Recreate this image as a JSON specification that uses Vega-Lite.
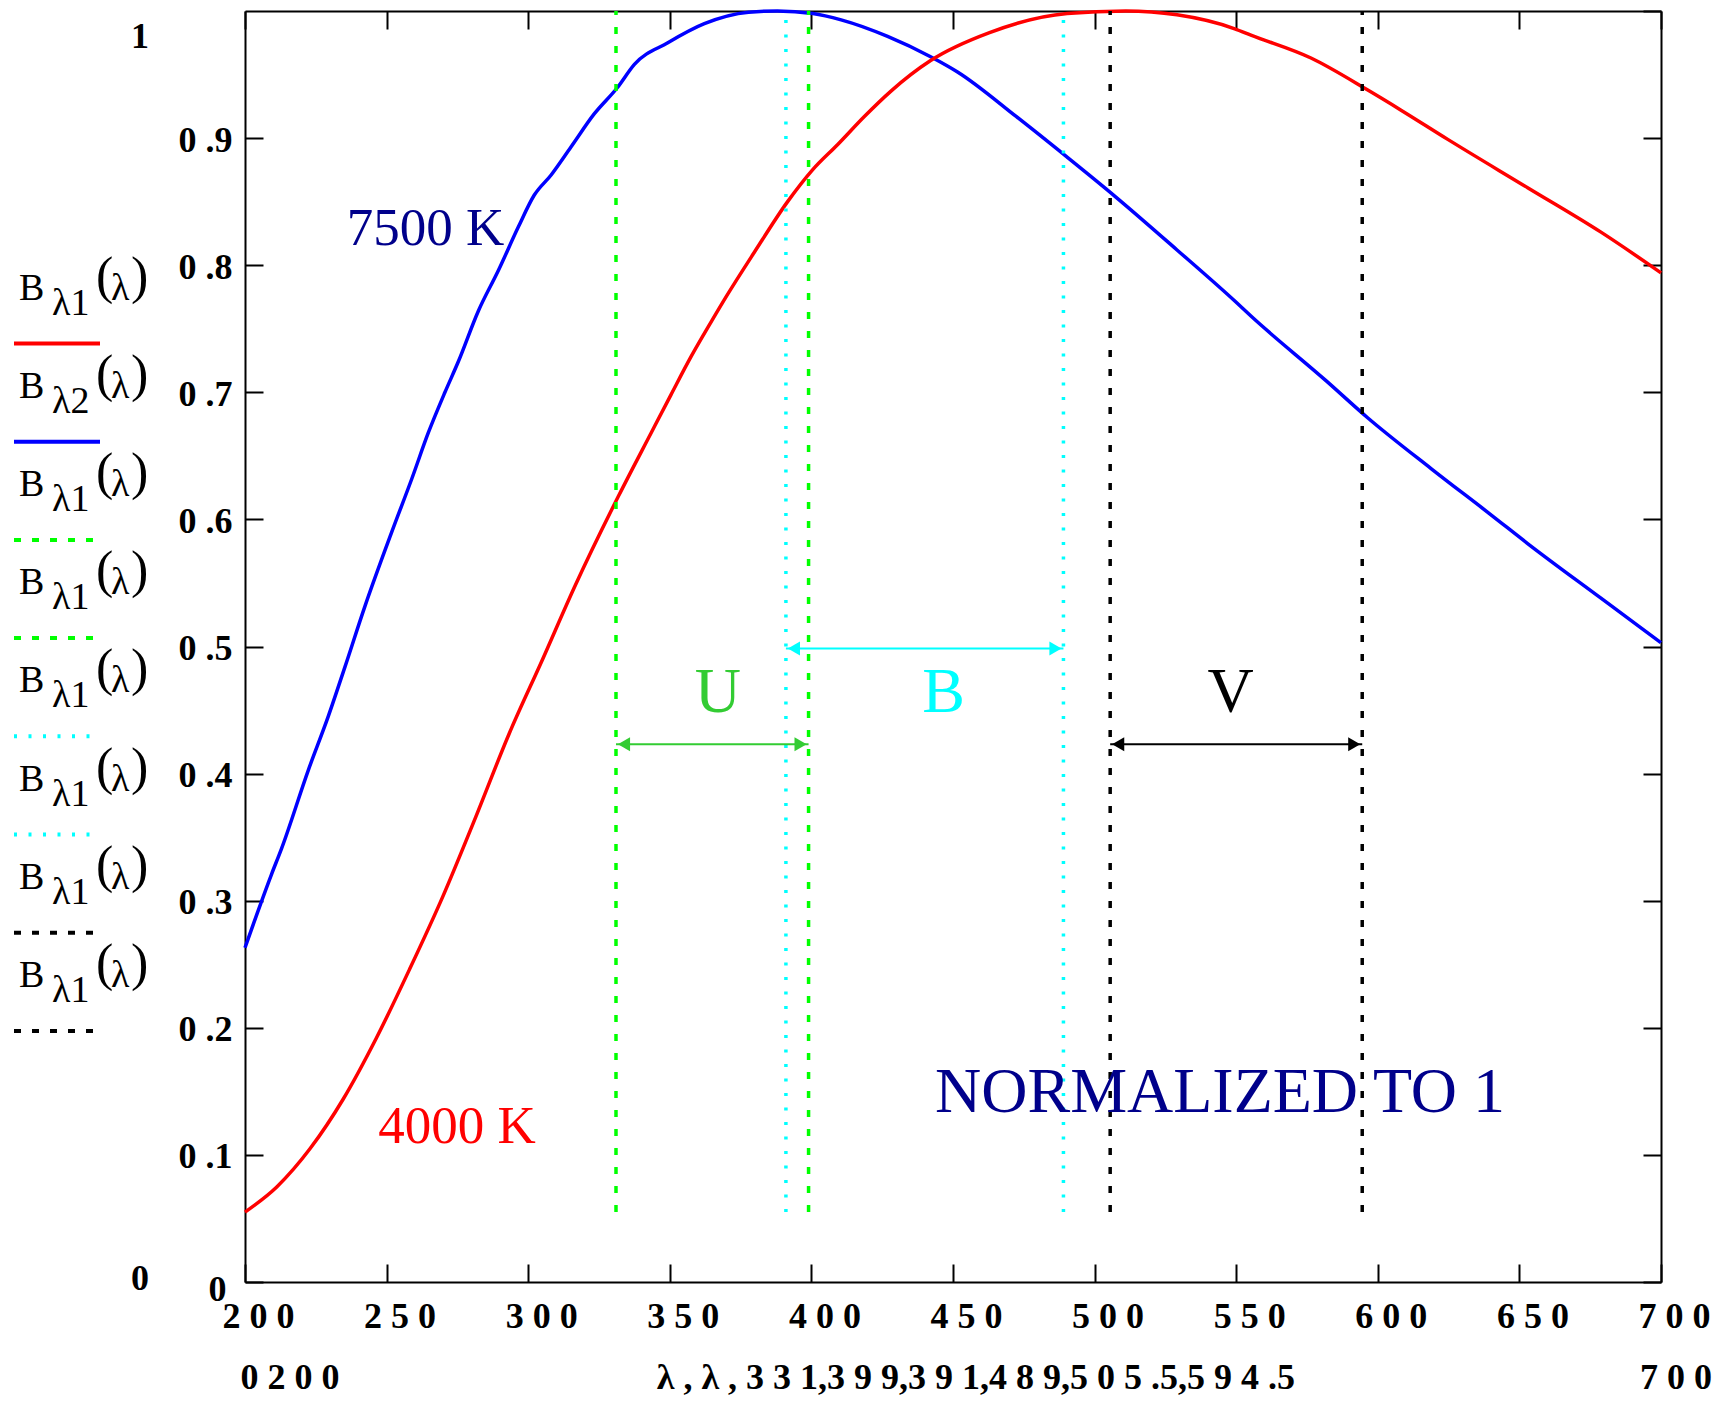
{
  "$schema": "https://vega.github.io/schema/vega-lite/v6.json",
  "background": "white",
  "autosize": {"type": "pad"},
  "padding": {"left": 12, "top": 4, "right": 10, "bottom": 5},
  "bounds": "flush",
  "spacing": 145,
  "config": {"view": {"stroke": null}, "font": "Liberation Serif"},
  "datasets": {
    "curves": [
      {"curve": "7500 K", "lambda": 200, "value": 0.263},
      {"curve": "7500 K", "lambda": 209.4, "value": 0.321},
      {"curve": "7500 K", "lambda": 212.9, "value": 0.341},
      {"curve": "7500 K", "lambda": 222.4, "value": 0.403},
      {"curve": "7500 K", "lambda": 229.4, "value": 0.445},
      {"curve": "7500 K", "lambda": 235.3, "value": 0.484},
      {"curve": "7500 K", "lambda": 242.4, "value": 0.532},
      {"curve": "7500 K", "lambda": 251.8, "value": 0.59},
      {"curve": "7500 K", "lambda": 258.9, "value": 0.632},
      {"curve": "7500 K", "lambda": 264.7, "value": 0.668},
      {"curve": "7500 K", "lambda": 270.6, "value": 0.7},
      {"curve": "7500 K", "lambda": 275.3, "value": 0.724},
      {"curve": "7500 K", "lambda": 282.4, "value": 0.764},
      {"curve": "7500 K", "lambda": 289.5, "value": 0.796},
      {"curve": "7500 K", "lambda": 296.5, "value": 0.83},
      {"curve": "7500 K", "lambda": 302.1, "value": 0.855},
      {"curve": "7500 K", "lambda": 308.1, "value": 0.871},
      {"curve": "7500 K", "lambda": 315.1, "value": 0.893},
      {"curve": "7500 K", "lambda": 323.3, "value": 0.919},
      {"curve": "7500 K", "lambda": 331.6, "value": 0.94},
      {"curve": "7500 K", "lambda": 337.5, "value": 0.958},
      {"curve": "7500 K", "lambda": 349.3, "value": 0.975},
      {"curve": "7500 K", "lambda": 362.2, "value": 0.99},
      {"curve": "7500 K", "lambda": 377.8, "value": 0.999},
      {"curve": "7500 K", "lambda": 388, "value": 1.0},
      {"curve": "7500 K", "lambda": 400.5, "value": 0.998},
      {"curve": "7500 K", "lambda": 410.5, "value": 0.993},
      {"curve": "7500 K", "lambda": 426.9, "value": 0.98},
      {"curve": "7500 K", "lambda": 442.1, "value": 0.964},
      {"curve": "7500 K", "lambda": 451.6, "value": 0.952},
      {"curve": "7500 K", "lambda": 472.3, "value": 0.917},
      {"curve": "7500 K", "lambda": 490.3, "value": 0.885},
      {"curve": "7500 K", "lambda": 507.3, "value": 0.854},
      {"curve": "7500 K", "lambda": 529.1, "value": 0.812},
      {"curve": "7500 K", "lambda": 549.9, "value": 0.771},
      {"curve": "7500 K", "lambda": 555.2, "value": 0.76},
      {"curve": "7500 K", "lambda": 581.8, "value": 0.709},
      {"curve": "7500 K", "lambda": 596.4, "value": 0.68},
      {"curve": "7500 K", "lambda": 618.8, "value": 0.64},
      {"curve": "7500 K", "lambda": 640.3, "value": 0.603},
      {"curve": "7500 K", "lambda": 652.9, "value": 0.581},
      {"curve": "7500 K", "lambda": 678.8, "value": 0.538},
      {"curve": "7500 K", "lambda": 700, "value": 0.503},
      {"curve": "4000 K", "lambda": 200, "value": 0.055},
      {"curve": "4000 K", "lambda": 211.3, "value": 0.075},
      {"curve": "4000 K", "lambda": 223, "value": 0.105},
      {"curve": "4000 K", "lambda": 234.7, "value": 0.144},
      {"curve": "4000 K", "lambda": 246.4, "value": 0.192},
      {"curve": "4000 K", "lambda": 258.1, "value": 0.246},
      {"curve": "4000 K", "lambda": 269.8, "value": 0.303},
      {"curve": "4000 K", "lambda": 281.5, "value": 0.366},
      {"curve": "4000 K", "lambda": 293.2, "value": 0.431},
      {"curve": "4000 K", "lambda": 304.9, "value": 0.489},
      {"curve": "4000 K", "lambda": 316.6, "value": 0.548},
      {"curve": "4000 K", "lambda": 331.8, "value": 0.618},
      {"curve": "4000 K", "lambda": 343.4, "value": 0.668},
      {"curve": "4000 K", "lambda": 350.4, "value": 0.698},
      {"curve": "4000 K", "lambda": 357.5, "value": 0.728},
      {"curve": "4000 K", "lambda": 364.5, "value": 0.755},
      {"curve": "4000 K", "lambda": 370.4, "value": 0.777},
      {"curve": "4000 K", "lambda": 379.8, "value": 0.81},
      {"curve": "4000 K", "lambda": 391.6, "value": 0.85},
      {"curve": "4000 K", "lambda": 400.4, "value": 0.875},
      {"curve": "4000 K", "lambda": 409.3, "value": 0.895},
      {"curve": "4000 K", "lambda": 418.7, "value": 0.917},
      {"curve": "4000 K", "lambda": 428.1, "value": 0.937},
      {"curve": "4000 K", "lambda": 442.1, "value": 0.961},
      {"curve": "4000 K", "lambda": 462.9, "value": 0.983},
      {"curve": "4000 K", "lambda": 490.3, "value": 0.998},
      {"curve": "4000 K", "lambda": 511, "value": 1.0},
      {"curve": "4000 K", "lambda": 529.1, "value": 0.997},
      {"curve": "4000 K", "lambda": 549.5, "value": 0.986},
      {"curve": "4000 K", "lambda": 555.2, "value": 0.981},
      {"curve": "4000 K", "lambda": 576.4, "value": 0.963},
      {"curve": "4000 K", "lambda": 596.3, "value": 0.938},
      {"curve": "4000 K", "lambda": 608.2, "value": 0.922},
      {"curve": "4000 K", "lambda": 624.7, "value": 0.899},
      {"curve": "4000 K", "lambda": 652.9, "value": 0.861},
      {"curve": "4000 K", "lambda": 678.8, "value": 0.826},
      {"curve": "4000 K", "lambda": 700, "value": 0.794}
    ],
    "bands": [
      {"band": "U", "lambda": 331, "lo": 0.055, "hi": 1},
      {"band": "U", "lambda": 399, "lo": 0.055, "hi": 1},
      {"band": "B", "lambda": 391, "lo": 0.055, "hi": 1},
      {"band": "B", "lambda": 489, "lo": 0.055, "hi": 1},
      {"band": "V", "lambda": 505.5, "lo": 0.055, "hi": 1},
      {"band": "V", "lambda": 594.5, "lo": 0.055, "hi": 1}
    ],
    "arrows": [
      {"band": "U", "from": 331, "to": 399, "level": 0.423},
      {"band": "B", "from": 391, "to": 489, "level": 0.4985},
      {"band": "V", "from": 505.5, "to": 594.5, "level": 0.423}
    ],
    "labels": [
      {"label": "7500 K", "kind": "temp", "lambda": 263.7, "value": 0.8156},
      {"label": "4000 K", "kind": "temp", "lambda": 274.9, "value": 0.1091},
      {"label": "U", "kind": "band", "lambda": 367.0, "value": 0.4481},
      {"label": "B", "kind": "band", "lambda": 446.7, "value": 0.4481},
      {"label": "V", "kind": "band", "lambda": 548.0, "value": 0.4481},
      {"label": "NORMALIZED TO 1", "kind": "note", "lambda": 544.3, "value": 0.1334}
    ],
    "axisnotes": [
      {"text": "1", "lambda": 162.9, "value": 0.971},
      {"text": "0", "lambda": 162.9, "value": -0.0063},
      {"text": "0 2 0 0", "lambda": 215.9, "value": -0.0843},
      {"text": "λ , λ , 3 3 1,3 9 9,3 9 1,4 8 9,5 0 5 .5,5 9 4 .5", "lambda": 458.1, "value": -0.0843},
      {"text": "7 0 0", "lambda": 705.3, "value": -0.0843}
    ],
    "legend": [
      {"entry": 1, "trace": "4000 K", "sub": "λ1"},
      {"entry": 2, "trace": "7500 K", "sub": "λ2"},
      {"entry": 3, "trace": "U", "sub": "λ1"},
      {"entry": 4, "trace": "U", "sub": "λ1"},
      {"entry": 5, "trace": "B", "sub": "λ1"},
      {"entry": 6, "trace": "B", "sub": "λ1"},
      {"entry": 7, "trace": "V", "sub": "λ1"},
      {"entry": 8, "trace": "V", "sub": "λ1"}
    ]
  },
  "resolve": {"scale": {"x": "independent", "y": "independent", "color": "independent", "strokeDash": "independent"}},
  "hconcat": [
    {
      "width": 86,
      "height": 1271,
      "data": {"name": "legend"},
      "layer": [
        {
          "mark": {"type": "rule", "strokeWidth": 4},
          "encoding": {
            "x": {"datum": 0, "type": "quantitative", "scale": {"domain": [0, 1], "nice": false, "zero": false}, "axis": null},
            "x2": {"datum": 1},
            "y": {"field": "entry", "type": "quantitative", "scale": {"domain": [-2.386, 10.557], "reverse": true, "nice": false, "zero": false}, "axis": null},
            "color": {"field": "trace", "type": "nominal", "scale": {"domain": ["4000 K", "7500 K", "U", "B", "V"], "range": ["#ff0000", "#0000ff", "#00ff00", "#00ffff", "#000000"]}, "legend": null},
            "strokeDash": {"field": "trace", "type": "nominal", "scale": {"domain": ["4000 K", "7500 K", "U", "B", "V"], "range": [[1, 0], [1, 0], [7, 11], [3, 11.5], [7, 11]]}, "legend": null}
          }
        },
        {
          "mark": {"type": "text", "text": "B", "align": "left", "baseline": "alphabetic", "dx": 5, "dy": -44, "fontSize": 38, "color": "black", "font": "Liberation Serif"},
          "encoding": {"x": {"datum": 0, "type": "quantitative"}, "y": {"field": "entry", "type": "quantitative"}}
        },
        {
          "mark": {"type": "text", "align": "left", "baseline": "alphabetic", "dx": 38, "dy": -29, "fontSize": 38, "color": "black", "font": "Liberation Serif"},
          "encoding": {"x": {"datum": 0, "type": "quantitative"}, "y": {"field": "entry", "type": "quantitative"}, "text": {"field": "sub"}}
        },
        {
          "mark": {"type": "text", "text": "(", "align": "left", "baseline": "alphabetic", "dx": 82, "dy": -51, "fontSize": 52, "color": "black", "font": "Liberation Serif"},
          "encoding": {"x": {"datum": 0, "type": "quantitative"}, "y": {"field": "entry", "type": "quantitative"}}
        },
        {
          "mark": {"type": "text", "text": "λ", "align": "left", "baseline": "alphabetic", "dx": 97, "dy": -44, "fontSize": 38, "color": "black", "font": "Liberation Serif"},
          "encoding": {"x": {"datum": 0, "type": "quantitative"}, "y": {"field": "entry", "type": "quantitative"}}
        },
        {
          "mark": {"type": "text", "text": ")", "align": "left", "baseline": "alphabetic", "dx": 117, "dy": -51, "fontSize": 52, "color": "black", "font": "Liberation Serif"},
          "encoding": {"x": {"datum": 0, "type": "quantitative"}, "y": {"field": "entry", "type": "quantitative"}}
        }
      ]
    },
    {
      "width": 1416,
      "height": 1271,
      "resolve": {"axis": {"x": "independent", "y": "independent"}, "scale": {"color": "independent", "strokeDash": "independent"}},
      "layer": [
        {
          "data": {"name": "curves"},
          "mark": {"type": "line", "strokeWidth": 3.5, "interpolate": "monotone"},
          "encoding": {
            "x": {
              "field": "lambda", "type": "quantitative",
              "scale": {"domain": [200, 700], "nice": false, "zero": false},
              "axis": {
                "orient": "bottom", "title": null, "grid": false,
                "values": [200, 250, 300, 350, 400, 450, 500, 550, 600, 650, 700],
                "labelExpr": "join(split(datum.label, ''), ' ')",
                "labelFont": "Liberation Serif", "labelFontWeight": "bold", "labelFontSize": 36, "labelColor": "black",
                "labelAngle": 0, "labelOverlap": false, "labelFlush": false, "labelBound": false,
                "labelPadding": 35,
                "labelOffset": 13,
                "tickSize": -18, "tickWidth": 2, "tickColor": "black",
                "domainColor": "black", "domainWidth": 2
              }
            },
            "y": {
              "field": "value", "type": "quantitative",
              "scale": {"domain": [0, 1], "nice": false, "zero": false},
              "axis": {
                "orient": "left", "title": null, "grid": false,
                "values": [0, 0.1, 0.2, 0.3, 0.4, 0.5, 0.6, 0.7, 0.8, 0.9],
                "labelExpr": "datum.value == 0 ? '0' : replace(format(datum.value, '.1f'), '.', ' .')",
                "labelFont": "Liberation Serif", "labelFontWeight": "bold", "labelFontSize": 36, "labelColor": "black",
                "labelOverlap": false, "labelFlush": false, "labelBound": false,
                "labelPadding": {"condition": {"test": "datum.value == 0", "value": 37}, "value": 31},
                "labelOffset": {"condition": {"test": "datum.value == 0", "value": 7}, "value": 2},
                "tickSize": -18, "tickWidth": 2, "tickColor": "black",
                "domainColor": "black", "domainWidth": 2
              }
            },
            "color": {"field": "curve", "type": "nominal", "scale": {"domain": ["4000 K", "7500 K"], "range": ["#ff0000", "#0000ff"]}, "legend": null}
          }
        },
        {
          "data": {"name": "curves"},
          "mark": {"type": "line", "strokeOpacity": 0},
          "encoding": {
            "x": {
              "field": "lambda", "type": "quantitative",
              "axis": {
                "orient": "top", "title": null, "grid": false, "labels": false,
                "values": [200, 250, 300, 350, 400, 450, 500, 550, 600, 650, 700],
                "tickSize": -18, "tickWidth": 2, "tickColor": "black",
                "domainColor": "black", "domainWidth": 2
              }
            },
            "y": {
              "field": "value", "type": "quantitative",
              "axis": {
                "orient": "right", "title": null, "grid": false, "labels": false,
                "values": [0, 0.1, 0.2, 0.3, 0.4, 0.5, 0.6, 0.7, 0.8, 0.9, 1],
                "tickSize": -18, "tickWidth": 2, "tickColor": "black",
                "domainColor": "black", "domainWidth": 2
              }
            },
            "detail": {"field": "curve"}
          }
        },
        {
          "data": {"name": "bands"},
          "mark": {"type": "rule", "strokeWidth": 3.5},
          "encoding": {
            "x": {"field": "lambda", "type": "quantitative", "axis": null},
            "y": {"field": "lo", "type": "quantitative", "axis": null},
            "y2": {"field": "hi"},
            "color": {"field": "band", "type": "nominal", "scale": {"domain": ["U", "B", "V"], "range": ["#00ff00", "#00ffff", "#000000"]}, "legend": null},
            "strokeDash": {"field": "band", "type": "nominal", "scale": {"domain": ["U", "B", "V"], "range": [[7, 12], [3, 11.5], [7, 12]]}, "legend": null}
          }
        },
        {
          "data": {"name": "arrows"},
          "mark": {"type": "rule", "strokeWidth": 2},
          "encoding": {
            "x": {"field": "from", "type": "quantitative", "axis": null},
            "x2": {"field": "to"},
            "y": {"field": "level", "type": "quantitative", "axis": null},
            "color": {"field": "band", "type": "nominal", "scale": {"domain": ["U", "B", "V"], "range": ["#33cc33", "#00ffff", "#000000"]}, "legend": null}
          }
        },
        {
          "data": {"name": "arrows"},
          "mark": {"type": "point", "shape": "triangle-left", "filled": true, "size": 196, "xOffset": 8, "opacity": 1, "strokeWidth": 0},
          "encoding": {
            "x": {"field": "from", "type": "quantitative", "axis": null},
            "y": {"field": "level", "type": "quantitative", "axis": null},
            "color": {"field": "band", "type": "nominal", "scale": {"domain": ["U", "B", "V"], "range": ["#33cc33", "#00ffff", "#000000"]}, "legend": null}
          }
        },
        {
          "data": {"name": "arrows"},
          "mark": {"type": "point", "shape": "triangle-right", "filled": true, "size": 196, "xOffset": -8, "opacity": 1, "strokeWidth": 0},
          "encoding": {
            "x": {"field": "to", "type": "quantitative", "axis": null},
            "y": {"field": "level", "type": "quantitative", "axis": null},
            "color": {"field": "band", "type": "nominal", "scale": {"domain": ["U", "B", "V"], "range": ["#33cc33", "#00ffff", "#000000"]}, "legend": null}
          }
        },
        {
          "data": {"name": "labels"},
          "transform": [{"filter": "datum.kind == 'temp'"}],
          "mark": {"type": "text", "align": "center", "baseline": "alphabetic", "fontSize": 53, "font": "Liberation Serif"},
          "encoding": {
            "x": {"field": "lambda", "type": "quantitative", "axis": null},
            "y": {"field": "value", "type": "quantitative", "axis": null},
            "text": {"field": "label"},
            "color": {"field": "label", "type": "nominal", "scale": {"domain": ["7500 K", "4000 K"], "range": ["#00008b", "#ff0000"]}, "legend": null}
          }
        },
        {
          "data": {"name": "labels"},
          "transform": [{"filter": "datum.kind == 'band'"}],
          "mark": {"type": "text", "align": "center", "baseline": "alphabetic", "fontSize": 64, "font": "Liberation Serif"},
          "encoding": {
            "x": {"field": "lambda", "type": "quantitative", "axis": null},
            "y": {"field": "value", "type": "quantitative", "axis": null},
            "text": {"field": "label"},
            "color": {"field": "label", "type": "nominal", "scale": {"domain": ["U", "B", "V"], "range": ["#33cc33", "#00ffff", "#000000"]}, "legend": null}
          }
        },
        {
          "data": {"name": "labels"},
          "transform": [{"filter": "datum.kind == 'note'"}],
          "mark": {"type": "text", "align": "center", "baseline": "alphabetic", "fontSize": 64, "font": "Liberation Serif", "color": "#00008b"},
          "encoding": {
            "x": {"field": "lambda", "type": "quantitative", "axis": null},
            "y": {"field": "value", "type": "quantitative", "axis": null},
            "text": {"field": "label"}
          }
        },
        {
          "data": {"name": "axisnotes"},
          "mark": {"type": "text", "align": "center", "baseline": "alphabetic", "fontSize": 36, "fontWeight": "bold", "font": "Liberation Serif", "color": "black", "clip": false},
          "encoding": {
            "x": {"field": "lambda", "type": "quantitative", "axis": null},
            "y": {"field": "value", "type": "quantitative", "axis": null},
            "text": {"field": "text"}
          }
        }
      ]
    }
  ]
}
